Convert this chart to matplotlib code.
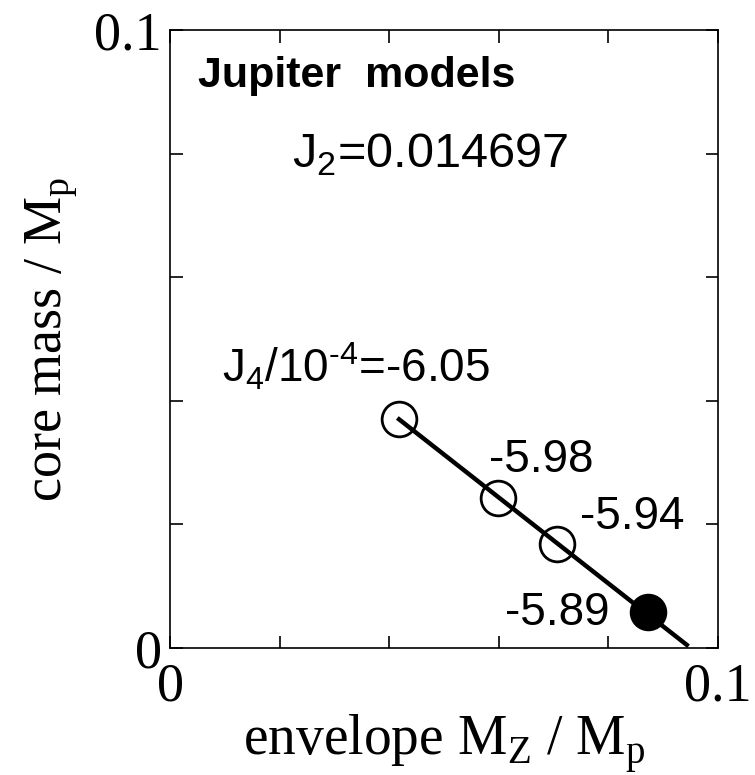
import matplotlib
matplotlib.use("Agg")
import matplotlib.pyplot as plt

# envelope M_Z / M_p  vs  core mass / M_p
env_mz = [0.0418, 0.0598, 0.0707, 0.0873]
core_mass = [0.0370, 0.0242, 0.0169, 0.0058]
j4_labels = ["-6.05", "-5.98", "-5.94", "-5.89"]
filled = [False, False, False, True]
# fit line continues past the last model down to the axis
line_x = [0.0418, 0.0943]
line_y = [0.0370, 0.0005]

serif = "Liberation Serif"
sans = "Liberation Sans"

fig = plt.figure(figsize=(7.55, 7.75), dpi=100)
ax = fig.add_axes([0.2252, 0.1639, 0.7258, 0.7974])

ax.plot(line_x, line_y, color="black", lw=3.2, zorder=2)
for x, y, f in zip(env_mz, core_mass, filled):
    ax.plot(x, y, "o", ms=25, mew=2.0, mec="black",
            mfc="black" if f else "white", zorder=3 if f else 1)

ax.set_xlim(0, 0.1)
ax.set_ylim(0, 0.1)
ticks = [0, 0.02, 0.04, 0.06, 0.08, 0.1]
ax.set_xticks(ticks)
ax.set_yticks(ticks)
ax.set_xticklabels(["0", "", "", "", "", "0.1"], fontfamily=serif, fontsize=39)
ax.set_yticklabels(["0", "", "", "", "", "0.1"], fontfamily=serif, fontsize=39)
ax.tick_params(direction="in", length=9, width=1.2, top=True, right=True)
ax.tick_params(axis="x", pad=10)
ax.tick_params(axis="y", pad=6)
for s in ax.spines.values():
    s.set_linewidth(1.2)

ax.set_xlabel(r"envelope M$_\mathregular{Z}$ / M$_\mathregular{p}$",
              fontfamily=serif, fontsize=40, labelpad=0)
ax.set_ylabel(r"core mass / M$_\mathregular{p}$",
              fontfamily=serif, fontsize=39, labelpad=10)

ax.text(0.0341, 0.0925, "Jupiter  models", fontfamily=sans, fontweight="bold",
        fontsize=31, ha="center", va="center")
ax.text(0.0474, 0.0797, r"J$_\mathregular{2}$=0.014697", fontfamily=sans,
        fontsize=35, ha="center", va="center")
ax.text(0.0094, 0.0455, "J$_\\mathregular{4}$/10$^\\mathregular{\u20104}$=" + j4_labels[0],
        fontfamily=sans, fontsize=33, ha="left", va="center")
label_pos = [(0.0677, 0.0304), (0.0843, 0.0212), (0.0706, 0.0057)]
for (tx, ty), lab in zip(label_pos, j4_labels[1:]):
    ax.text(tx, ty, lab, fontfamily=sans, fontsize=33, ha="center", va="center")

fig.savefig("out.png", dpi=100)
